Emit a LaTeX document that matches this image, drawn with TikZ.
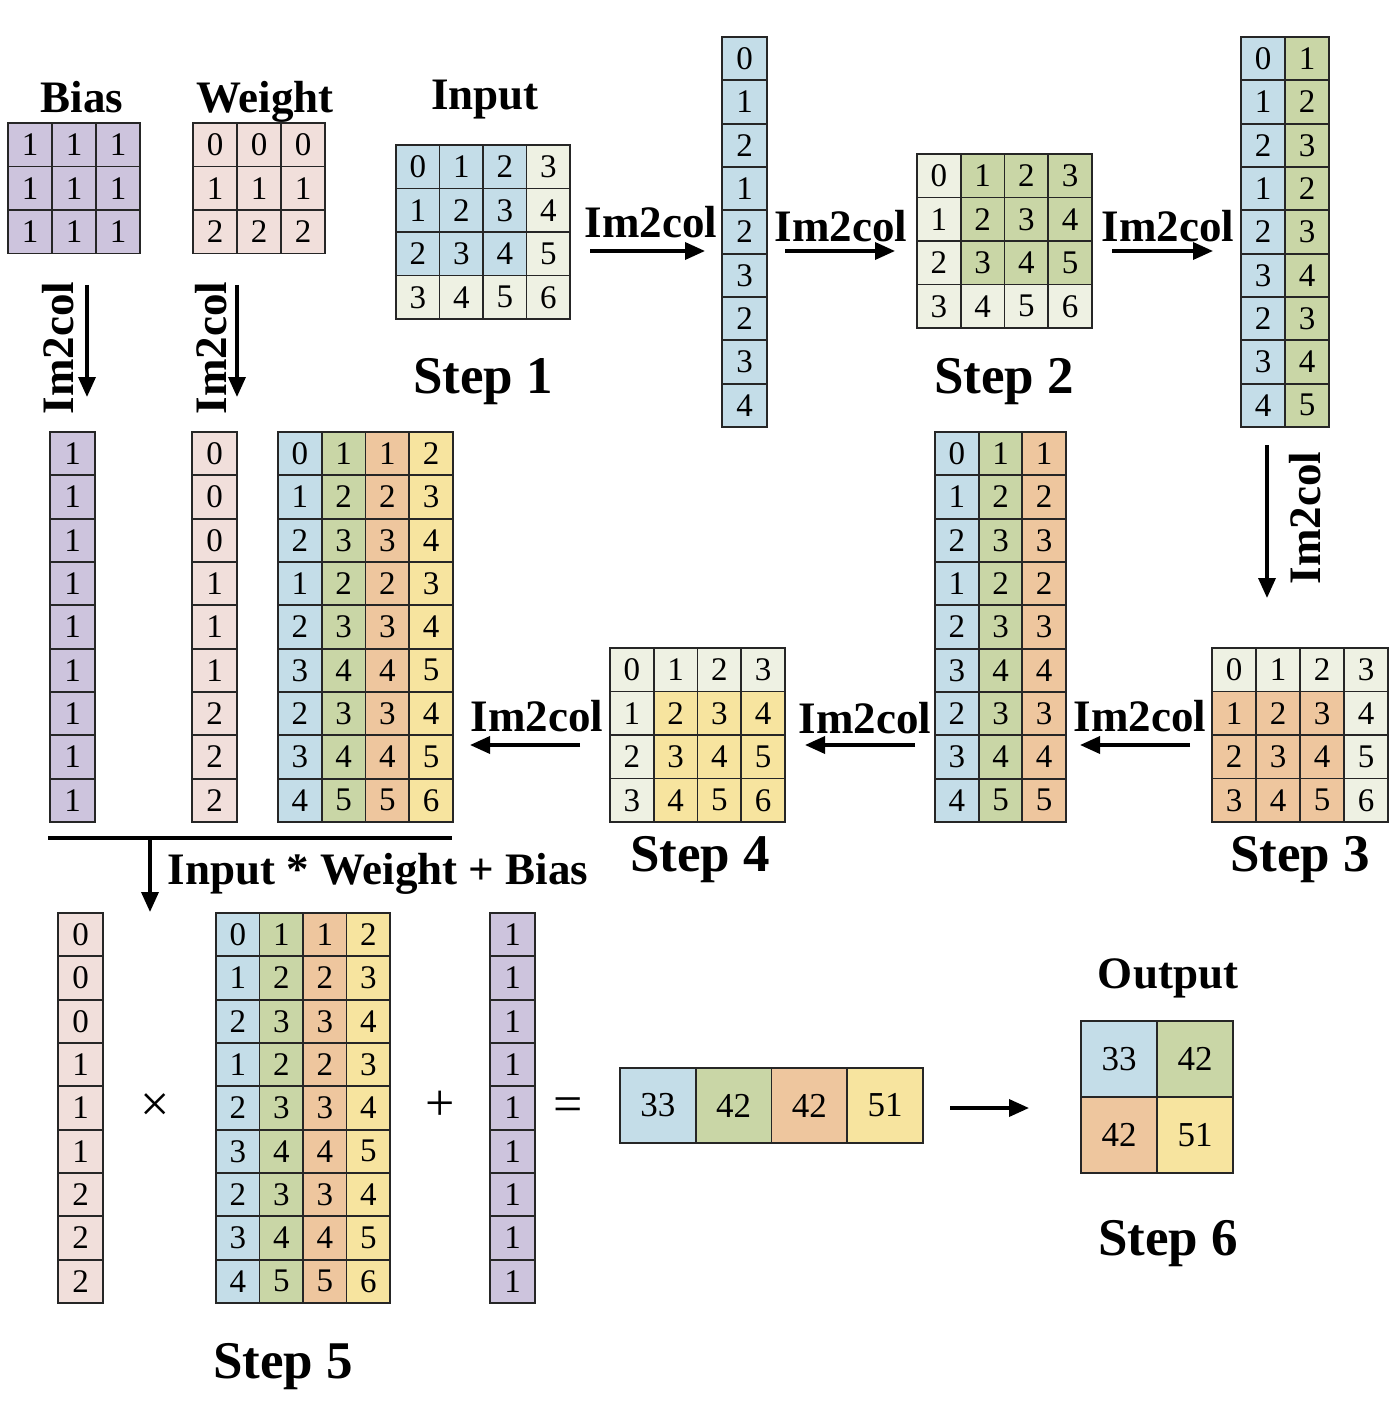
\documentclass[tikz,border=0pt]{standalone}
\usepackage{fontspec}
\setmainfont{Liberation Serif}
\usetikzlibrary{arrows.meta}
\definecolor{colB}{HTML}{C4DDE8}
\definecolor{colG}{HTML}{C9D6A6}
\definecolor{colO}{HTML}{EEC69E}
\definecolor{colY}{HTML}{F7E49F}
\definecolor{colL}{HTML}{EEF1E3}
\definecolor{colP}{HTML}{CDC4DD}
\definecolor{colK}{HTML}{F1DFDB}
% #1 name, #2 x0, #3 y0, #4 cell width, #5 cell height, #6 rows of colour/value
\newcommand\mygrid[6]{%
  \foreach \rowdata [count=\ri from 0] in {#6} {%
    \foreach \cc/\vv [count=\ki from 0] in \rowdata {%
      \node[cellbox, minimum width=#4pt, minimum height=#5pt, fill=col\cc]
        (#1-\ri-\ki) at ({#2+(\ki+0.5)*#4},{#3+(\ri+0.5)*#5}) {\vv};
    }%
  }%
}
\tikzset{
  cellbox/.style={draw=black!85, line width=1.9pt, inner sep=0pt, font=\fontsize{33}{33}\selectfont},
  arr/.style={line width=3.5pt, -{Triangle[length=20pt,width=17pt]}},
  lbl/.style={font=\fontsize{45}{45}\selectfont\bfseries, inner sep=0pt},
  steplbl/.style={font=\fontsize{53}{53}\selectfont\bfseries, inner sep=0pt, anchor=base},
  opsym/.style={font=\fontsize{52}{52}\selectfont, inner sep=0pt}
}
\begin{document}
\begin{tikzpicture}[x=1pt,y=-1pt]
\useasboundingbox[fill=white] (0,0) rectangle (1398,1404);
% ---------- titles ----------
\node[lbl, anchor=base] (tbias) at (82,113) {Bias};
\node[lbl, anchor=base] (tweight) at (265,113) {Weight};
\node[lbl, anchor=base] (tinput) at (485,110) {Input};
\node[lbl, anchor=base] (toutput) at (1168,988) {Output};
% ---------- Bias / Weight ----------
\mygrid{bias}{8}{123}{44}{43.5}{{P/1,P/1,P/1},{P/1,P/1,P/1},{P/1,P/1,P/1}}
\mygrid{wgt}{193}{123}{44}{43.5}{{K/0,K/0,K/0},{K/1,K/1,K/1},{K/2,K/2,K/2}}
% ---------- Step 1 ----------
\mygrid{inp}{396}{145}{43.5}{43.5}{{B/0,B/1,B/2,L/3},{B/1,B/2,B/3,L/4},{B/2,B/3,B/4,L/5},{L/3,L/4,L/5,L/6}}
\node[steplbl] (s1) at (483,393) {Step 1};
\mygrid{ca}{722}{37}{45}{43.33}{{B/0},{B/1},{B/2},{B/1},{B/2},{B/3},{B/2},{B/3},{B/4}}
% ---------- Step 2 ----------
\mygrid{sb}{917}{154}{43.75}{43.5}{{L/0,G/1,G/2,G/3},{L/1,G/2,G/3,G/4},{L/2,G/3,G/4,G/5},{L/3,L/4,L/5,L/6}}
\node[steplbl] (s2) at (1004,393) {Step 2};
\mygrid{cb}{1241}{37}{44}{43.33}{{B/0,G/1},{B/1,G/2},{B/2,G/3},{B/1,G/2},{B/2,G/3},{B/3,G/4},{B/2,G/3},{B/3,G/4},{B/4,G/5}}
% ---------- Step 3 ----------
\mygrid{sc}{1212}{648}{44}{43.5}{{L/0,L/1,L/2,L/3},{O/1,O/2,O/3,L/4},{O/2,O/3,O/4,L/5},{O/3,O/4,O/5,L/6}}
\node[steplbl] (s3) at (1300,871) {Step 3};
\mygrid{cc}{935}{432}{43.67}{43.33}{{B/0,G/1,O/1},{B/1,G/2,O/2},{B/2,G/3,O/3},{B/1,G/2,O/2},{B/2,G/3,O/3},{B/3,G/4,O/4},{B/2,G/3,O/3},{B/3,G/4,O/4},{B/4,G/5,O/5}}
% ---------- Step 4 ----------
\mygrid{sd}{610}{648}{43.75}{43.5}{{L/0,L/1,L/2,L/3},{L/1,Y/2,Y/3,Y/4},{L/2,Y/3,Y/4,Y/5},{L/3,Y/4,Y/5,Y/6}}
\node[steplbl] (s4) at (700,871) {Step 4};
\mygrid{cd}{278}{432}{43.75}{43.33}{{B/0,G/1,O/1,Y/2},{B/1,G/2,O/2,Y/3},{B/2,G/3,O/3,Y/4},{B/1,G/2,O/2,Y/3},{B/2,G/3,O/3,Y/4},{B/3,G/4,O/4,Y/5},{B/2,G/3,O/3,Y/4},{B/3,G/4,O/4,Y/5},{B/4,G/5,O/5,Y/6}}
\mygrid{bcol}{50}{432}{45}{43.33}{{P/1},{P/1},{P/1},{P/1},{P/1},{P/1},{P/1},{P/1},{P/1}}
\mygrid{wcol}{192}{432}{45}{43.33}{{K/0},{K/0},{K/0},{K/1},{K/1},{K/1},{K/2},{K/2},{K/2}}
% ---------- Step 5 ----------
\mygrid{fw}{58}{913}{45}{43.33}{{K/0},{K/0},{K/0},{K/1},{K/1},{K/1},{K/2},{K/2},{K/2}}
\mygrid{fx}{216}{913}{43.5}{43.33}{{B/0,G/1,O/1,Y/2},{B/1,G/2,O/2,Y/3},{B/2,G/3,O/3,Y/4},{B/1,G/2,O/2,Y/3},{B/2,G/3,O/3,Y/4},{B/3,G/4,O/4,Y/5},{B/2,G/3,O/3,Y/4},{B/3,G/4,O/4,Y/5},{B/4,G/5,O/5,Y/6}}
\mygrid{fb}{490}{913}{45}{43.33}{{P/1},{P/1},{P/1},{P/1},{P/1},{P/1},{P/1},{P/1},{P/1}}
\node[opsym] (times) at (155,1108) {×};
\node[opsym] (plus) at (440,1106) {+};
\node[opsym] (equals) at (568,1110) {=};
\begin{scope}[cellbox/.append style={font=\fontsize{35}{35}\selectfont}]
\mygrid{res}{620}{1068}{75.75}{75}{{B/33,G/42,O/42,Y/51}}
% ---------- Step 6 ----------
\mygrid{out}{1081}{1021}{76}{76}{{B/33,G/42},{O/42,Y/51}}
\end{scope}
\node[steplbl] (s5) at (283,1378) {Step 5};
\node[steplbl] (s6) at (1168,1255) {Step 6};
% ---------- arrows ----------
\coordinate (a1s) at (590,251); \coordinate (a1e) at (705,251);
\draw[arr] (a1s) -- (a1e);
\node[lbl] (l1) at (651,222) {Im2col};
\coordinate (a2s) at (785,251); \coordinate (a2e) at (895,251);
\draw[arr] (a2s) -- (a2e);
\node[lbl] (l2) at (841,226) {Im2col};
\coordinate (a3s) at (1112,251); \coordinate (a3e) at (1213,251);
\draw[arr] (a3s) -- (a3e);
\node[lbl] (l3) at (1168,226) {Im2col};
\coordinate (a4s) at (1267,445); \coordinate (a4e) at (1267,598);
\draw[arr] (a4s) -- (a4e);
\node[lbl, rotate=90] (l4) at (1305,518) {Im2col};
\coordinate (a5s) at (1190,745); \coordinate (a5e) at (1080,745);
\draw[arr] (a5s) -- (a5e);
\node[lbl] (l5) at (1140,716) {Im2col};
\coordinate (a6s) at (915,745); \coordinate (a6e) at (805,745);
\draw[arr] (a6s) -- (a6e);
\node[lbl] (l6) at (865,718) {Im2col};
\coordinate (a7s) at (580,745); \coordinate (a7e) at (470,745);
\draw[arr] (a7s) -- (a7e);
\node[lbl] (l7) at (537,716) {Im2col};
\coordinate (a8s) at (87,285); \coordinate (a8e) at (87,397);
\draw[arr] (a8s) -- (a8e);
\node[lbl, rotate=90] (l8) at (58,348) {Im2col};
\coordinate (a9s) at (237,285); \coordinate (a9e) at (237,397);
\draw[arr] (a9s) -- (a9e);
\node[lbl, rotate=90] (l9) at (211,348) {Im2col};
\coordinate (ll) at (48,838); \coordinate (lr) at (452,838);
\draw[line width=4pt] (ll) -- (lr);
\coordinate (a10s) at (150,838); \coordinate (a10e) at (150,912);
\draw[arr] (a10s) -- (a10e);
\node[lbl, anchor=base] (l10) at (378,884) {Input * Weight + Bias};
\coordinate (a11s) at (950,1108); \coordinate (a11e) at (1029,1108);
\draw[arr] (a11s) -- (a11e);
\end{tikzpicture}
\end{document}
